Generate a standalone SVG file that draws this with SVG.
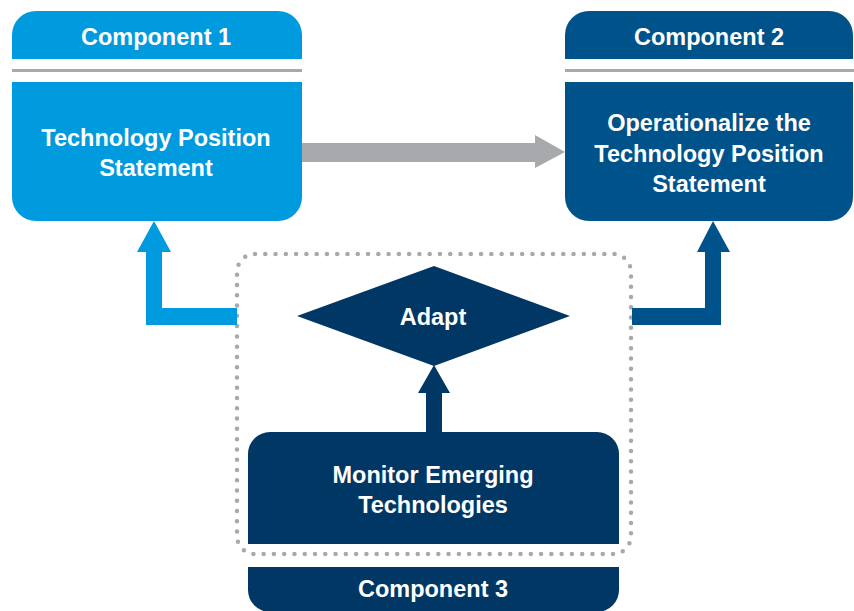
<svg xmlns="http://www.w3.org/2000/svg" width="854" height="611" viewBox="0 0 854 611">
  <style>
    .t { font-family: "Liberation Sans", Arial, sans-serif; font-weight: bold; font-size: 23.5px; fill: #ffffff; text-anchor: middle; }
    .c1 { fill: #009ade; }
    .c2 { fill: #00528a; }
    .c3 { fill: #003764; }
    .rule { fill: #a7a9ac; }
  </style>
  <rect width="854" height="611" fill="#ffffff"/>

  <g id="component1">
    <path class="c1" d="M12,59 V35 A24,24 0 0 1 36,11 H278 A24,24 0 0 1 302,35 V59 Z"/>
    <rect class="rule" x="12" y="69" width="290" height="3"/>
    <path class="c1" d="M12,82 H302 V197 A24,24 0 0 1 278,221 H36 A24,24 0 0 1 12,197 Z"/>
    <text class="t" x="156" y="45">Component 1</text>
    <text class="t" x="156" y="146">Technology Position</text>
    <text class="t" x="156" y="176">Statement</text>
  </g>

  <g id="component2">
    <path class="c2" d="M565,59 V35 A24,24 0 0 1 589,11 H829 A24,24 0 0 1 853,35 V59 Z"/>
    <rect class="rule" x="565" y="69" width="289" height="3"/>
    <path class="c2" d="M565,82 H853 V197 A24,24 0 0 1 829,221 H589 A24,24 0 0 1 565,197 Z"/>
    <text class="t" x="709" y="45">Component 2</text>
    <text class="t" x="709" y="131">Operationalize the</text>
    <text class="t" x="709" y="162">Technology Position</text>
    <text class="t" x="709" y="192">Statement</text>
  </g>

  <g id="component3-boundary">
    <rect x="237" y="254" width="394" height="300" rx="18" ry="18" fill="none" stroke="#a7a9ac" stroke-width="4.5" stroke-linecap="round" pathLength="132" stroke-dasharray="0 1"/>
  </g>

  <g id="adapt">
    <polygon class="c3" points="297,316 434,266 570,316 434,366"/>
    <text class="t" x="433" y="325">Adapt</text>
  </g>

  <g id="monitor">
    <path class="c3" d="M248,544 V454 A22,22 0 0 1 270,432 H597 A22,22 0 0 1 619,454 V544 Z"/>
    <text class="t" x="433" y="483">Monitor Emerging</text>
    <text class="t" x="433" y="513">Technologies</text>
  </g>

  <g id="component3">
    <path class="c3" d="M248,567 H619 V590 A22,22 0 0 1 597,612 H270 A22,22 0 0 1 248,590 Z"/>
    <text class="t" x="433" y="597">Component 3</text>
  </g>

  <g id="connectors">
    <polygon fill="#a7a9ac" points="302,143 535,143 535,135 565,152 535,168 535,162 302,162"/>
    <polygon class="c1" points="237,308 162,308 162,252 171,252 154,221 137,252 146,252 146,325 237,325"/>
    <polygon class="c2" points="632,308 705,308 705,252 697,252 713,221 730,252 721,252 721,325 632,325"/>
    <polygon class="c3" points="426,432 426,393 418,393 434,365 450,393 442,393 442,432"/>
  </g>
</svg>
